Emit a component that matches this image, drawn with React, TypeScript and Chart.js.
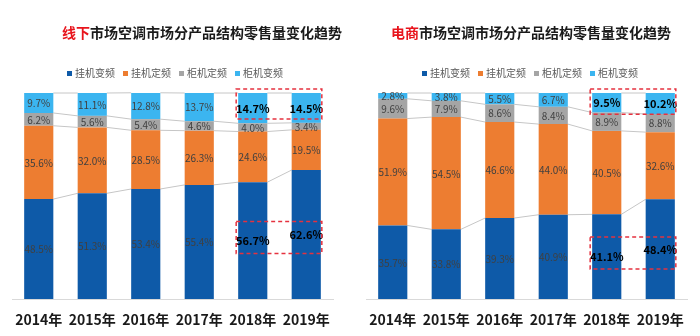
import React, { useEffect, useRef } from 'react';
import { Chart, registerables } from 'chart.js';

Chart.register(...registerables);

const FONT = '"Noto Sans CJK SC", "Microsoft YaHei", sans-serif';

const years = ['2014年', '2015年', '2016年', '2017年', '2018年', '2019年'];
const seriesNames = ['挂机变频', '挂机定频', '柜机定频', '柜机变频'];
const seriesColors = ['#0e5aa8', '#ed7d31', '#a5a5a5', '#3bb5f0'];

// 线下 (offline)
const offlineWallInverter = [48.5, 51.3, 53.4, 55.4, 56.7, 62.6];
const offlineWallFixed = [35.6, 32.0, 28.5, 26.3, 24.6, 19.5];
const offlineCabinetFixed = [6.2, 5.6, 5.4, 4.6, 4.0, 3.4];
const offlineCabinetInverter = [9.7, 11.1, 12.8, 13.7, 14.7, 14.5];

// 电商 (online)
const onlineWallInverter = [35.7, 33.8, 39.3, 40.9, 41.1, 48.4];
const onlineWallFixed = [51.9, 54.5, 46.6, 44.0, 40.5, 32.6];
const onlineCabinetFixed = [9.6, 7.9, 8.6, 8.4, 8.9, 8.8];
const onlineCabinetInverter = [2.8, 3.8, 5.5, 6.7, 9.5, 10.2];

const decor = {
  id: 'decor',
  beforeDatasetsDraw(chart: any) {
    const ctx = chart.ctx;
    ctx.save();
    ctx.strokeStyle = '#c6c6c6';
    ctx.lineWidth = 1;
    chart.data.datasets.forEach((_d: any, k: number) => {
      const meta = chart.getDatasetMeta(k);
      for (let i = 0; i < meta.data.length - 1; i++) {
        const a = meta.data[i];
        const b = meta.data[i + 1];
        ctx.beginPath();
        ctx.moveTo(a.x + a.width / 2, a.y);
        ctx.lineTo(b.x - b.width / 2, b.y);
        ctx.stroke();
      }
    });
    ctx.restore();
  },
  afterDatasetsDraw(chart: any) {
    const ctx = chart.ctx;
    const n = chart.data.labels.length;
    ctx.save();
    ctx.textAlign = 'center';
    ctx.textBaseline = 'middle';
    chart.data.datasets.forEach((ds: any, k: number) => {
      const meta = chart.getDatasetMeta(k);
      meta.data.forEach((el: any, i: number) => {
        const v = ds.data[i];
        const bold = i >= n - 2 && (k === 0 || k === chart.data.datasets.length - 1);
        ctx.font = bold ? `bold 11px ${FONT}` : `10px ${FONT}`;
        ctx.fillStyle = bold ? '#000000' : '#404040';
        ctx.fillText(v.toFixed(1) + '%', el.x, (el.y + el.base) / 2 + 0.5);
      });
    });
    // red dashed highlight boxes
    const area = chart.chartArea;
    const first = chart.getDatasetMeta(0);
    const lastIdx = chart.data.datasets.length - 1;
    const top = chart.getDatasetMeta(lastIdx);
    const a0 = first.data[n - 2], a1 = first.data[n - 1];
    const t0 = top.data[n - 2], t1 = top.data[n - 1];
    const x0 = t0.x - t0.width / 2 - 2;
    const x1 = t1.x + t1.width / 2 + 1;
    ctx.strokeStyle = '#e5323f';
    ctx.lineWidth = 1.5;
    ctx.setLineDash([4, 3]);
    const topMid = ((t0.y + t0.base) / 2 + (t1.y + t1.base) / 2) / 2;
    ctx.strokeRect(x0, area.top - 4, x1 - x0, topMid + 11 - (area.top - 4));
    const botMid = ((a0.y + a0.base) / 2 + (a1.y + a1.base) / 2) / 2;
    ctx.strokeRect(x0, botMid - 16, x1 - x0, 32);
    ctx.restore();
  },
  afterDraw(chart: any, _args: any, opts: any) {
    const ctx = chart.ctx;
    ctx.save();
    // title
    ctx.font = `bold 14px ${FONT}`;
    ctx.textBaseline = 'middle';
    ctx.textAlign = 'left';
    const w1 = ctx.measureText(opts.titleRed).width;
    const w2 = ctx.measureText(opts.titleRest).width;
    const x = opts.titleX - (w1 + w2) / 2;
    ctx.fillStyle = '#e8141c';
    ctx.fillText(opts.titleRed, x, 33);
    ctx.fillStyle = '#1a1a1a';
    ctx.fillText(opts.titleRest, x + w1, 33);
    // legend
    ctx.font = `10px ${FONT}`;
    const items = chart.data.datasets.map((ds: any) => ({
      text: ds.label,
      color: ds.backgroundColor,
      w: 8 + ctx.measureText(ds.label).width,
    }));
    const gap = 8;
    const total = items.reduce((s: number, it: any) => s + it.w, 0) + gap * (items.length - 1);
    let lx = opts.legendX - total / 2;
    items.forEach((it: any) => {
      ctx.fillStyle = it.color;
      ctx.fillRect(lx, 71, 5, 5);
      ctx.fillStyle = '#595959';
      ctx.fillText(it.text, lx + 8, 73.5);
      lx += it.w + gap;
    });
    ctx.restore();
  },
};

function buildChart(canvas: HTMLCanvasElement, cfg: any) {
  const datasets = cfg.series.map((vals: number[], i: number) => ({
    label: seriesNames[i],
    data: vals,
    backgroundColor: seriesColors[i],
    borderWidth: 0,
    barPercentage: 0.545,
    categoryPercentage: 1,
  }));
  return new Chart(canvas, {
    type: 'bar',
    data: { labels: years, datasets },
    options: {
      responsive: false,
      animation: false,
      devicePixelRatio: 1,
      layout: { padding: { top: 93, bottom: 9, left: cfg.padL, right: cfg.padR } },
      scales: {
        x: {
          stacked: true,
          grid: { display: false, drawTicks: false },
          border: { color: '#d9d9d9', width: 1 },
          ticks: {
            color: '#1a1a1a',
            font: { family: FONT, size: 14, weight: 'bold' },
            padding: 12,
          },
          afterFit(scale: any) {
            scale.height = 28;
          },
        },
        y: { stacked: true, display: false, min: 0, max: 100 },
      },
      plugins: {
        legend: { display: false },
        tooltip: { enabled: false },
        title: { display: false },
        decor: cfg,
      },
    } as any,
    plugins: [decor as any],
  });
}

function StackChart({ cfg }: { cfg: any }) {
  const ref = useRef<HTMLCanvasElement>(null);
  useEffect(() => {
    if (!ref.current) return;
    const c = buildChart(ref.current, cfg);
    return () => c.destroy();
  }, []);
  return <canvas ref={ref} width={350} height={336} style={{ width: 350, height: 336, display: 'block' }} />;
}

const offlineCfg = {
  series: [offlineWallInverter, offlineWallFixed, offlineCabinetFixed, offlineCabinetInverter],
  titleRed: '线下',
  titleRest: '市场空调市场分产品结构零售量变化趋势',
  titleX: 202,
  legendX: 175,
  padL: 12,
  padR: 17,
};

const onlineCfg = {
  series: [onlineWallInverter, onlineWallFixed, onlineCabinetFixed, onlineCabinetInverter],
  titleRed: '电商',
  titleRest: '市场空调市场分产品结构零售量变化趋势',
  titleX: 181,
  legendX: 180,
  padL: 16,
  padR: 13,
};

export default function App() {
  return (
    <div style={{ position: 'absolute', left: 0, top: 0, width: 700, height: 336, background: '#ffffff', display: 'flex' }}>
      <StackChart cfg={offlineCfg} />
      <StackChart cfg={onlineCfg} />
    </div>
  );
}
